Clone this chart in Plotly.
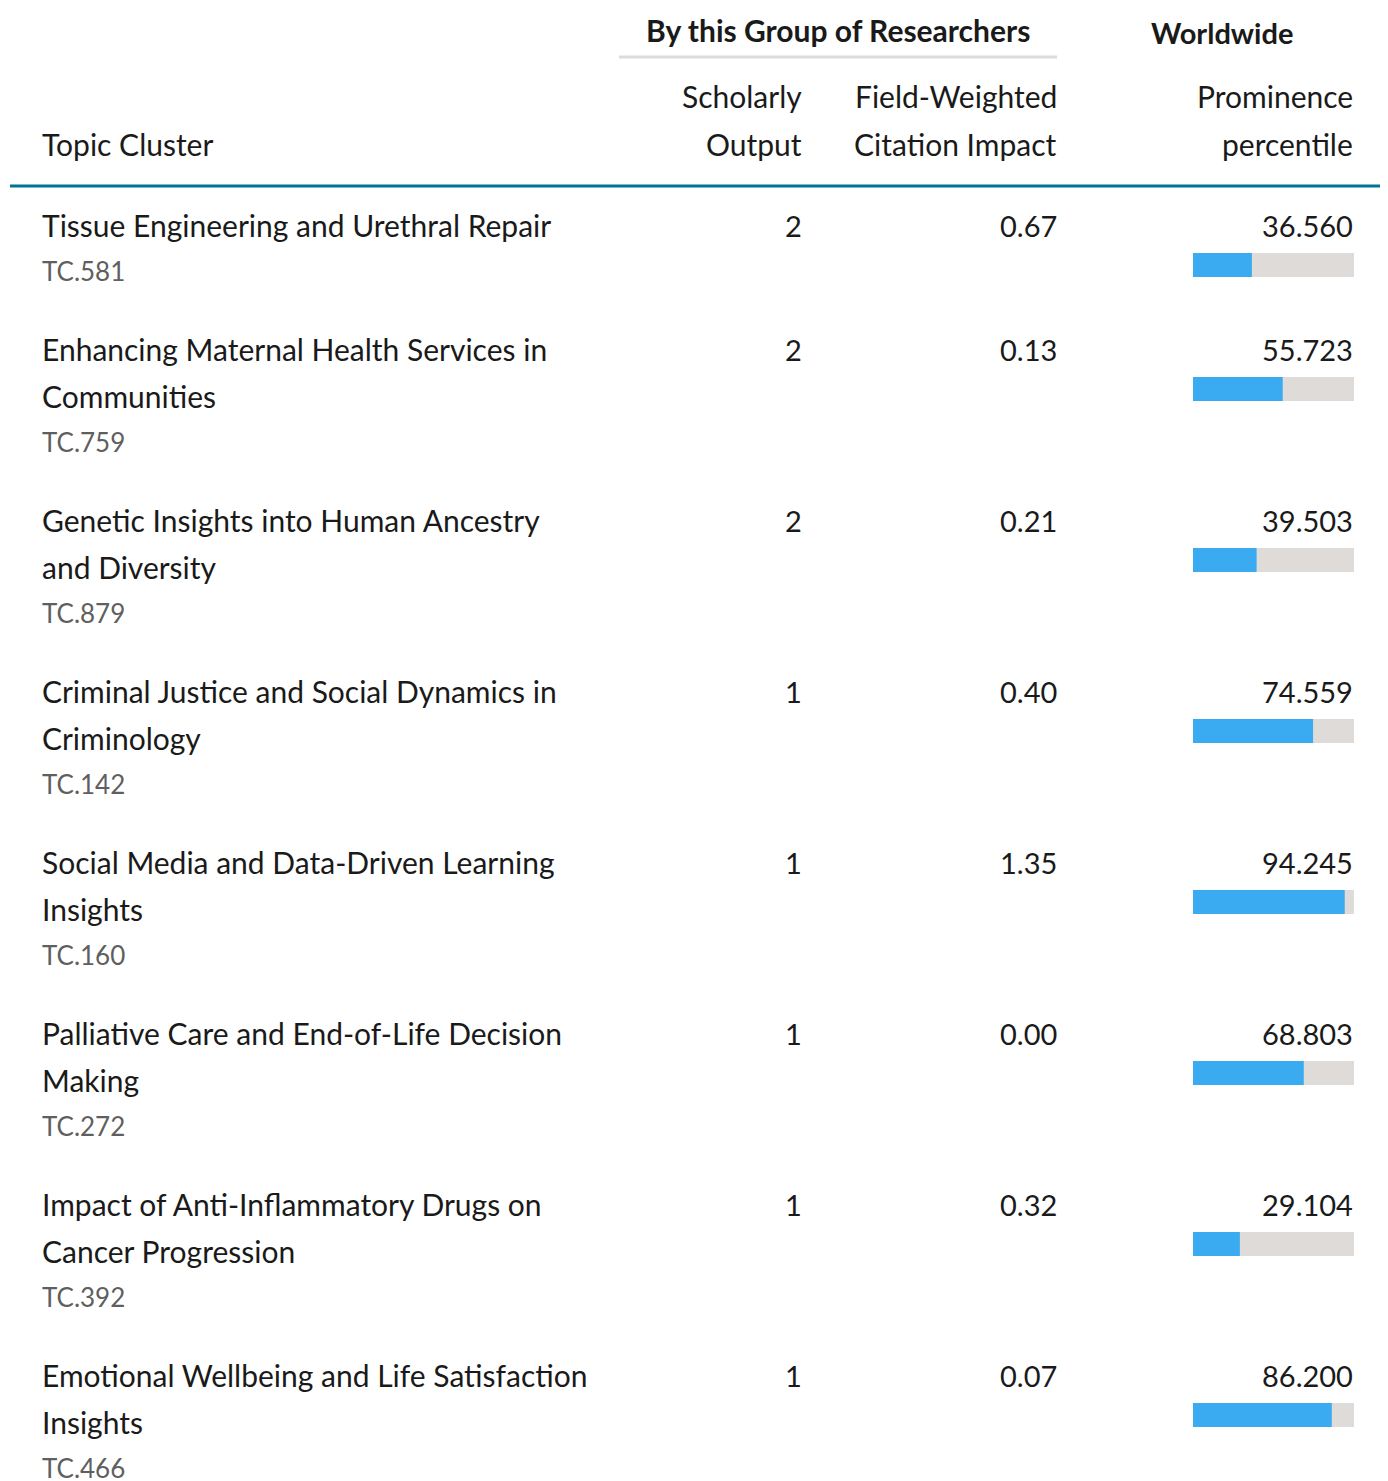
import plotly.graph_objects as go

# ---- data ----
topics = [
    "Tissue Engineering and Urethral Repair",
    "Enhancing Maternal Health Services in<br>Communities",
    "Genetic Insights into Human Ancestry<br>and Diversity",
    "Criminal Justice and Social Dynamics in<br>Criminology",
    "Social Media and Data-Driven Learning<br>Insights",
    "Palliative Care and End-of-Life Decision<br>Making",
    "Impact of Anti-Inflammatory Drugs on<br>Cancer Progression",
    "Emotional Wellbeing and Life Satisfaction<br>Insights",
]
codes = ["TC.581", "TC.759", "TC.879", "TC.142", "TC.160", "TC.272", "TC.392", "TC.466"]
scholarly_output = [2, 2, 2, 1, 1, 1, 1, 1]
fwci = [0.67, 0.13, 0.21, 0.40, 1.35, 0.00, 0.32, 0.07]
prominence = [36.560, 55.723, 39.503, 74.559, 94.245, 68.803, 29.104, 86.200]

W, H = 1388, 1481
OFF = 8  # page body margin
FONT = "Lato"
TXT = "#1a1a1a"
GREY_TXT = "#5f5f5f"
BLUE = "#3aabf0"
TRACK = "#dedbd8"
TEAL = "#007398"

# layout of rows
first_y = 225
line_gap = 47
code_gap = 46
row_pad = 78  # from code line to next row title

row_title_y = []
row_code_y = []
y = first_y
for t in topics:
    n = len(t.split("<br>"))
    row_title_y.append(y)
    cy = y + (n - 1) * line_gap + code_gap
    row_code_y.append(cy)
    y = cy + row_pad
bar_y = [ty + 40 for ty in row_title_y]

fig = go.Figure()

# percentile bars on their own axis
fig.add_trace(go.Bar(
    x=[100] * len(prominence), y=bar_y, orientation="h",
    marker=dict(color=TRACK, line=dict(width=0)), width=24,
    xaxis="x2", yaxis="y2", hoverinfo="skip", showlegend=False,
))
fig.add_trace(go.Bar(
    x=prominence, y=bar_y, orientation="h",
    marker=dict(color=BLUE, line=dict(width=0)), width=24,
    xaxis="x2", yaxis="y2", showlegend=False,
    hovertemplate="%{x:.3f}<extra></extra>",
))

ann = []

def add(text, x, y, anchor="left", size=30, color=TXT, bold=False):
    ann.append(dict(
        text=("<b>%s</b>" % text) if bold else text,
        x=x, y=y, xref="x", yref="y", xanchor=anchor, yanchor="middle",
        showarrow=False, borderpad=0, borderwidth=0,
        font=dict(family=FONT, size=size, color=color),
    ))

# headers
add("By this Group of Researchers", 838, 30, "center", 30, TXT, True)
add("Worldwide", 1222, 32, "center", 29, TXT, True)
add("Scholarly", 802, 96, "right")
add("Output", 802, 144, "right")
add("Field-Weighted", 1057, 96, "right")
add("Citation Impact", 1057, 144, "right")
add("Prominence", 1353, 96, "right")
add("percentile", 1353, 144, "right")
add("Topic Cluster", 42, 144, "left")

for i, t in enumerate(topics):
    for j, line in enumerate(t.split("<br>")):
        add(line, 42, row_title_y[i] + j * line_gap, "left")
    add(codes[i], 42, row_code_y[i], "left", 26, GREY_TXT)
    add(str(scholarly_output[i]), 802, row_title_y[i], "right", 29)
    add("%.2f" % fwci[i], 1057, row_title_y[i], "right", 29)
    add("%.3f" % prominence[i], 1353, row_title_y[i], "right", 29)

shapes = [
    dict(type="line", xref="x", yref="y", x0=619, x1=1057, y0=57, y1=57,
         line=dict(color="#dcdcdc", width=3)),
    dict(type="line", xref="x", yref="y", x0=10, x1=1386, y0=186, y1=186,
         line=dict(color=TEAL, width=3)),
]

fig.update_layout(
    width=W, height=H, margin=dict(l=0, r=0, t=0, b=0),
    paper_bgcolor="white", plot_bgcolor="rgba(0,0,0,0)",
    barmode="overlay", showlegend=False,
    xaxis=dict(range=[OFF, W + OFF], domain=[0, 1], visible=False, fixedrange=True),
    yaxis=dict(range=[H + OFF, OFF], domain=[0, 1], visible=False, fixedrange=True),
    xaxis2=dict(range=[0, 100], domain=[(1193 - OFF) / W, (1354 - OFF) / W],
                visible=False, anchor="y2"),
    yaxis2=dict(range=[H + OFF, OFF], domain=[0, 1], visible=False, anchor="x2",
                overlaying="y"),
    annotations=ann, shapes=shapes,
    font=dict(family=FONT, color=TXT),
)

fig.write_html("out.html")
